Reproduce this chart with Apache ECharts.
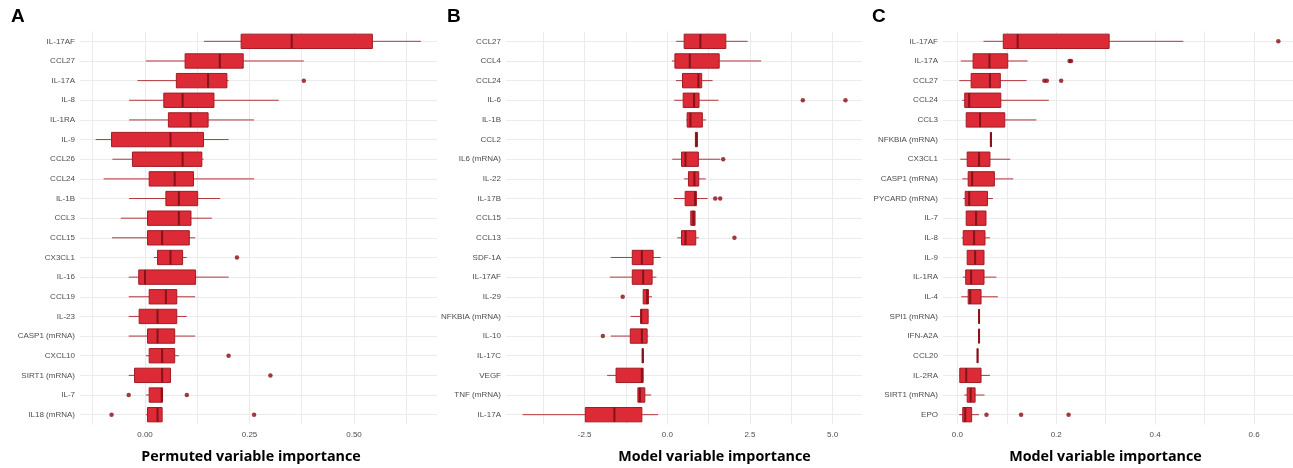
<!DOCTYPE html>
<html>
<head>
<meta charset="utf-8">
<script src="https://cdn.jsdelivr.net/npm/echarts@6/dist/echarts.min.js"></script>
<style>
html,body{margin:0;padding:0;background:#fff;}
#chart{width:1293px;height:468px;}
</style>
</head>
<body>
<div id="chart"></div>
<script>
// ---------- Panel A: permuted variable importance ----------
const catsA = ['IL-17AF','CCL27','IL-17A','IL-8','IL-1RA','IL-9','CCL26','CCL24','IL-1B','CCL3','CCL15','CX3CL1','IL-16','CCL19','IL-23','CASP1 (mRNA)','CXCL10','SIRT1 (mRNA)','IL-7','IL18 (mRNA)'];
// [lower whisker, Q1, median, Q3, upper whisker]
const statsA = [
  [0.141,0.230,0.351,0.544,0.660],
  [0.002,0.096,0.179,0.235,0.380],
  [-0.018,0.075,0.151,0.196,0.200],
  [-0.038,0.045,0.090,0.165,0.320],
  [-0.038,0.056,0.109,0.151,0.261],
  [-0.118,-0.080,0.061,0.140,0.200],
  [-0.078,-0.030,0.090,0.136,0.140],
  [-0.099,0.010,0.071,0.116,0.261],
  [-0.038,0.050,0.081,0.126,0.180],
  [-0.058,0.006,0.081,0.110,0.160],
  [-0.079,0.006,0.041,0.106,0.120],
  [0.021,0.030,0.061,0.090,0.100],
  [-0.039,-0.015,0.000,0.121,0.200],
  [-0.039,0.010,0.050,0.076,0.120],
  [-0.039,-0.014,0.030,0.076,0.100],
  [-0.039,0.006,0.030,0.071,0.120],
  [0.002,0.010,0.041,0.071,0.081],
  [-0.039,-0.025,0.041,0.061,0.061],
  [0.002,0.010,0.040,0.042,0.042],
  [0.002,0.006,0.030,0.041,0.041]
];
const outA = [['IL-17A',0.380],['CX3CL1',0.220],['CXCL10',0.200],['SIRT1 (mRNA)',0.300],['IL-7',-0.039],['IL-7',0.100],['IL18 (mRNA)',-0.080],['IL18 (mRNA)',0.261]];
const ticksA = [0, 0.25, 0.5];
const gridXA = [-0.125, 0, 0.125, 0.25, 0.375, 0.5, 0.625];

// ---------- Panel B: model variable importance ----------
const catsB = ['CCL27','CCL4','CCL24','IL-6','IL-1B','CCL2','IL6 (mRNA)','IL-22','IL-17B','CCL15','CCL13','SDF-1A','IL-17AF','IL-29','NFKBIA (mRNA)','IL-10','IL-17C','VEGF','TNF (mRNA)','IL-17A'];
const statsB = [
  [0.27,0.51,1.00,1.77,2.43],
  [0.14,0.23,0.68,1.57,2.84],
  [0.26,0.46,0.94,1.04,1.37],
  [0.21,0.48,0.81,0.96,1.55],
  [0.57,0.60,0.70,1.06,1.17],
  [0.84,0.85,0.88,0.91,0.92],
  [0.15,0.43,0.55,0.94,1.60],
  [0.51,0.64,0.82,0.95,1.16],
  [0.20,0.54,0.84,0.88,1.22],
  [0.70,0.71,0.79,0.84,0.84],
  [0.30,0.43,0.55,0.86,0.95],
  [-1.71,-1.06,-0.77,-0.43,-0.20],
  [-1.74,-1.06,-0.73,-0.46,-0.33],
  [-0.73,-0.73,-0.61,-0.57,-0.46],
  [-1.11,-0.80,-0.79,-0.58,-0.56],
  [-1.71,-1.12,-0.77,-0.61,-0.57],
  [-0.77,-0.76,-0.74,-0.73,-0.72],
  [-1.82,-1.55,-0.77,-0.73,-0.73],
  [-0.89,-0.89,-0.83,-0.68,-0.49],
  [-4.38,-2.48,-1.60,-0.77,-0.28]
];
const outB = [['IL-6',4.10],['IL-6',5.39],['IL6 (mRNA)',1.69],['IL-17B',1.45],['IL-17B',1.60],['CCL13',2.03],['IL-29',-1.35],['IL-10',-1.95]];
const ticksB = [-2.5, 0, 2.5, 5];
const gridXB = [-3.75, -2.5, -1.25, 0, 1.25, 2.5, 3.75, 5];

// ---------- Panel C: model variable importance ----------
const catsC = ['IL-17AF','IL-17A','CCL27','CCL24','CCL3','NFKBIA (mRNA)','CX3CL1','CASP1 (mRNA)','PYCARD (mRNA)','IL-7','IL-8','IL-9','IL-1RA','IL-4','SPI1 (mRNA)','IFN-A2A','CCL20','IL-2RA','SIRT1 (mRNA)','EPO'];
const statsC = [
  [0.053,0.093,0.122,0.307,0.457],
  [0.007,0.032,0.065,0.102,0.142],
  [0.004,0.028,0.066,0.087,0.140],
  [0.010,0.015,0.024,0.088,0.185],
  [0.018,0.018,0.046,0.096,0.160],
  [0.066,0.067,0.068,0.069,0.070],
  [0.006,0.020,0.044,0.066,0.107],
  [0.010,0.022,0.030,0.075,0.113],
  [0.012,0.016,0.024,0.061,0.072],
  [0.018,0.018,0.038,0.058,0.058],
  [0.009,0.012,0.034,0.056,0.066],
  [0.020,0.020,0.036,0.054,0.054],
  [0.011,0.017,0.028,0.054,0.079],
  [0.008,0.022,0.026,0.048,0.082],
  [0.043,0.0435,0.044,0.0445,0.045],
  [0.043,0.0435,0.044,0.0445,0.045],
  [0.040,0.0405,0.041,0.0415,0.042],
  [0.004,0.005,0.018,0.048,0.066],
  [0.014,0.020,0.027,0.036,0.055],
  [0.004,0.011,0.016,0.029,0.044]
];
const outC = [['IL-17AF',0.649],['IL-17A',0.227],['IL-17A',0.230],['CCL27',0.176],['CCL27',0.181],['CCL27',0.210],['EPO',0.059],['EPO',0.129],['EPO',0.225]];
const ticksC = [0, 0.2, 0.4, 0.6];
const gridXC = [0, 0.1, 0.2, 0.3, 0.4, 0.5, 0.6];

const panelLetters = ['A','B','C'];
const axisTitles = ['Permuted variable importance','Model variable importance','Model variable importance'];

// ---------- styling / layout ----------
const FILL = '#DC2A37', BORDER = '#A11C24', MEDIAN = '#86121A', WHISK = '#B2363D', OUT = '#8B0A0F';
const GRIDC = '#EBEBEB';
const grids = [
  {left: 80,  top: 31.5, width: 357, height: 393},
  {left: 506, top: 31.5, width: 356, height: 393},
  {left: 943, top: 31.5, width: 350, height: 393}
];
const ranges = [[-0.1555, 0.6986], [-4.88, 5.89], [-0.0289, 0.6787]];
const panels = [
  {cats: catsA, stats: statsA, outs: outA, ticks: ticksA, gx: gridXA, fmt: v => v.toFixed(2)},
  {cats: catsB, stats: statsB, outs: outB, ticks: ticksB, gx: gridXB, fmt: v => v.toFixed(1)},
  {cats: catsC, stats: statsC, outs: outC, ticks: ticksC, gx: gridXC, fmt: v => v.toFixed(1)}
];

function renderBox(params, api) {
  const i = api.value(0);
  const lo = api.value(1), q1 = api.value(2), md = api.value(3), q3 = api.value(4), hi = api.value(5);
  const pLo = api.coord([lo, i]), pQ1 = api.coord([q1, i]), pMd = api.coord([md, i]);
  const pQ3 = api.coord([q3, i]), pHi = api.coord([hi, i]);
  const band = api.size([0, 1])[1];
  const h = band * 0.73;
  const y = pMd[1];
  return {
    type: 'group',
    children: [
      {type: 'line', shape: {x1: pLo[0], y1: y, x2: pQ1[0], y2: y}, style: {stroke: WHISK, lineWidth: 1}},
      {type: 'line', shape: {x1: pQ3[0], y1: y, x2: pHi[0], y2: y}, style: {stroke: WHISK, lineWidth: 1}},
      {type: 'rect', shape: {x: pQ1[0], y: y - h / 2, width: Math.max(pQ3[0] - pQ1[0], 0.5), height: h},
        style: {fill: FILL, stroke: BORDER, lineWidth: 1}},
      {type: 'line', shape: {x1: pMd[0], y1: y - h / 2, x2: pMd[0], y2: y + h / 2}, style: {stroke: MEDIAN, lineWidth: 2}}
    ]
  };
}

const option = {
  animation: false,
  grid: grids.map(g => Object.assign({containLabel: false}, g)),
  xAxis: panels.map((p, k) => ({
    type: 'value', gridIndex: k, min: ranges[k][0], max: ranges[k][1],
    axisLine: {show: false},
    axisTick: {show: false, customValues: p.gx},
    axisLabel: {customValues: p.ticks, formatter: p.fmt, color: '#4D4D4D', fontSize: 8,
      fontFamily: 'Liberation Sans, Arial, sans-serif', margin: 6},
    splitLine: {show: true, lineStyle: {color: GRIDC, width: 1}}
  })),
  yAxis: panels.map((p, k) => ({
    type: 'category', gridIndex: k, data: p.cats, inverse: true,
    axisLine: {show: false},
    axisTick: {show: false, alignWithLabel: true},
    axisLabel: {color: '#4D4D4D', fontSize: 8, fontFamily: 'Liberation Sans, Arial, sans-serif', margin: 5},
    splitLine: {show: true, alignWithLabel: true, lineStyle: {color: GRIDC, width: 1}}
  })),
  series: [].concat(
    panels.map((p, k) => ({
      type: 'custom', xAxisIndex: k, yAxisIndex: k,
      renderItem: renderBox,
      encode: {y: 0, x: [1, 2, 3, 4, 5]},
      data: p.stats.map((s, i) => [i].concat(s)),
      z: 3
    })),
    panels.map((p, k) => ({
      type: 'scatter', xAxisIndex: k, yAxisIndex: k,
      symbolSize: 4.5,
      itemStyle: {color: OUT},
      data: p.outs.map(o => [o[1], o[0]]),
      z: 4
    }))
  ),
  graphic: [].concat(
    panelLetters.map((t, k) => ({
      type: 'text', left: [11, 447, 872][k], top: 7,
      style: {text: t, font: 'bold 19px "Liberation Sans", Arial, sans-serif', fill: '#000'}
    })),
    axisTitles.map((t, k) => ({
      type: 'text', x: [251, 714.5, 1105.5][k], y: 457,
      style: {text: t, font: 'bold 14.3px "Open Sans", sans-serif', fill: '#000', align: 'center', verticalAlign: 'middle'}
    }))
  )
};

const chart = echarts.init(document.getElementById('chart'), null, {renderer: 'canvas'});
chart.setOption(option);
</script>
</body>
</html>
